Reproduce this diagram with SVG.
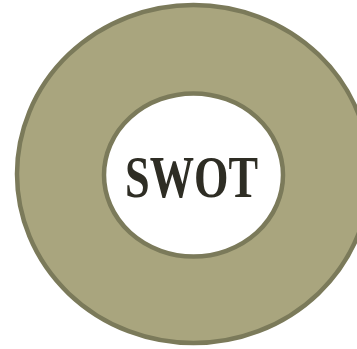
<svg xmlns="http://www.w3.org/2000/svg" width="357" height="349" viewBox="0 0 357 349">
  <style>
    .ring { fill: #a9a57e; stroke: #7b7a5a; stroke-width: 4.5; }
    .hole { fill: #ffffff; stroke: #7b7a5a; stroke-width: 4.5; }
    .title { font-family: "Liberation Serif", "DejaVu Serif", serif; font-weight: bold; font-size: 60px; fill: #2e2d24; }
  </style>
  <rect width="357" height="349" fill="#ffffff"/>
  <g id="outer-ring">
    <ellipse class="ring" cx="193.5" cy="174" rx="176.5" ry="169"/>
  </g>
  <g id="center">
    <ellipse class="hole" cx="193.5" cy="175" rx="89.5" ry="81.5"/>
    <text class="title" x="125" y="197" textLength="133" lengthAdjust="spacingAndGlyphs">SWOT</text>
  </g>
</svg>
